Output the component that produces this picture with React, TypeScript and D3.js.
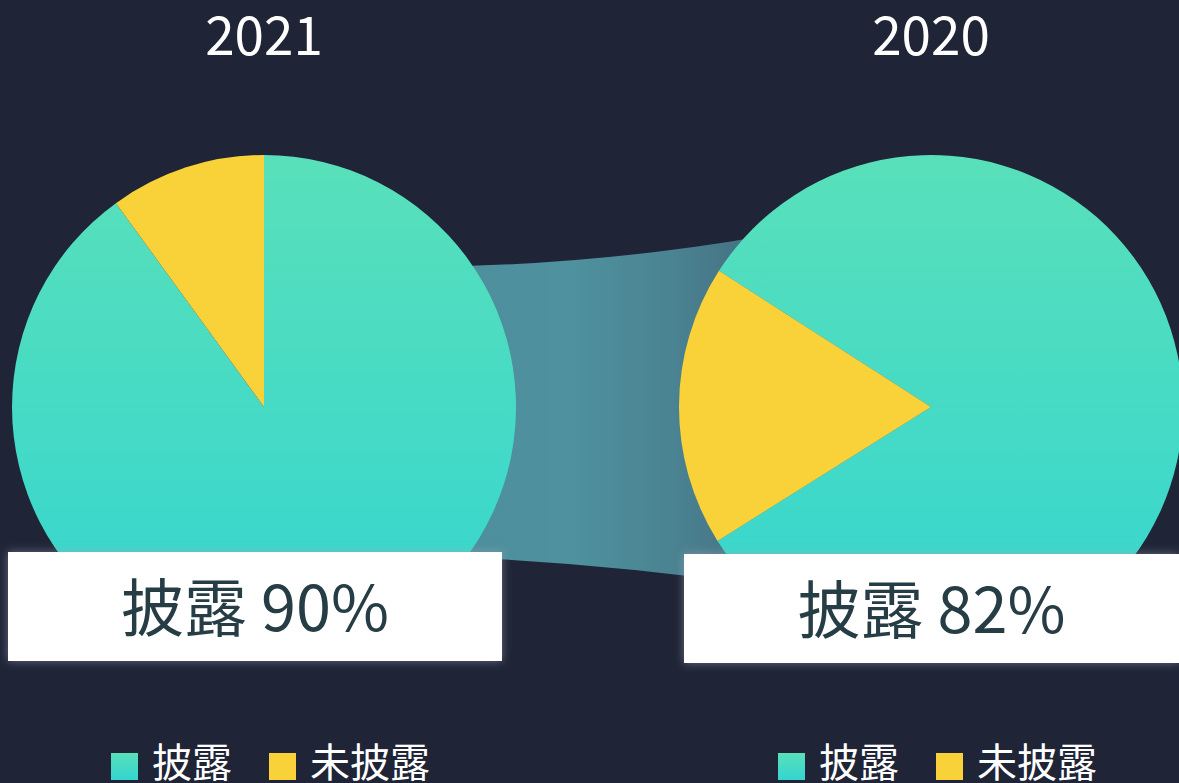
import React from 'react'
import * as d3 from 'd3'

// data
const years = ['2021', '2020']
const disclosed = [90, 82]
const undisclosed = [10, 18]
const seriesNames = ['披露', '未披露']
const startAngles = [0, -1] // radians, the 2020 pie is rotated

const W = 1179
const H = 783
const R = 252
const centers = [264, 931]
const cy = 407
const FONT = '"Noto Sans CJK SC", "Noto Sans", sans-serif'

const pie = d3.pie<number>().sort(null).value(d => d)
const arc = d3.arc<d3.PieArcDatum<number>>().innerRadius(0).outerRadius(R)

function bandPath() {
  const [x0, x1] = centers
  const p = d3.path()
  p.moveTo(x0, 262)
  p.quadraticCurveTo(600, 285, x1, 200)
  p.lineTo(x1, 615)
  p.quadraticCurveTo(600, 548, x0, 555)
  p.closePath()
  return p.toString()
}

export default function App() {
  return (
    <svg width={W} height={H} style={{ position: 'absolute', left: 0, top: 0 }}>
      <defs>
        <linearGradient id="pieGrad" x1="0" y1="0" x2="0" y2="1">
          <stop offset="0%" stopColor="#59e0ba" />
          <stop offset="100%" stopColor="#33d5d0" />
        </linearGradient>
        <linearGradient id="bandGrad" gradientUnits="userSpaceOnUse" x1="470" y1="0" x2="760" y2="0">
          <stop offset="0%" stopColor="#4d8f9c" />
          <stop offset="35%" stopColor="#4f919e" />
          <stop offset="70%" stopColor="#4a8392" />
          <stop offset="100%" stopColor="#446f80" />
        </linearGradient>
        <filter id="boxShadow" x="-10%" y="-30%" width="120%" height="160%">
          <feDropShadow dx="0" dy="0" stdDeviation="5" floodColor="#a0a6b4" floodOpacity="0.55" />
        </filter>
      </defs>
      <rect width={W} height={H} fill="#1f2437" />

      <path d={bandPath()} fill="url(#bandGrad)" />

      {years.map((year, i) => {
        const cx = centers[i]
        const arcs = pie.startAngle(startAngles[i]).endAngle(startAngles[i] + 2 * Math.PI)([disclosed[i], undisclosed[i]])
        return (
          <g key={year}>
            <text x={cx} y={55} textAnchor="middle" fill="#ffffff" fontSize={53} fontFamily={FONT}>{year}</text>
            <g transform={`translate(${cx},${cy})`}>
              {arcs.map((a, j) => (
                <path
                  key={j}
                  d={arc(a) || ''}
                  fill={j === 0 ? 'url(#pieGrad)' : '#f9d23a'}
                />
              ))}
            </g>
          </g>
        )
      })}

      {years.map((year, i) => {
        const cx = centers[i]
        const boxX = i === 0 ? 8 : 684
        const boxY = i === 0 ? 552 : 554
        const boxW = i === 0 ? 494 : 495
        return (
          <g key={'box' + year}>
            <rect x={boxX} y={boxY} width={boxW} height={109} fill="#ffffff" filter="url(#boxShadow)" />
            <text x={boxX + boxW / 2} y={boxY + 79} textAnchor="middle" fill="#263d46" fontSize={63} fontFamily={FONT}>
              {`${seriesNames[0]} ${disclosed[i]}%`}
            </text>
            <g transform={`translate(${cx},0)`}>
              <rect x={-153} y={753} width={27} height={27} fill="url(#pieGrad)" />
              <text x={-112} y={777} fill="#ffffff" fontSize={40} fontFamily={FONT}>{seriesNames[0]}</text>
              <rect x={5} y={753} width={27} height={27} fill="#f9d23a" />
              <text x={46} y={777} fill="#ffffff" fontSize={40} fontFamily={FONT}>{seriesNames[1]}</text>
            </g>
          </g>
        )
      })}
    </svg>
  )
}
